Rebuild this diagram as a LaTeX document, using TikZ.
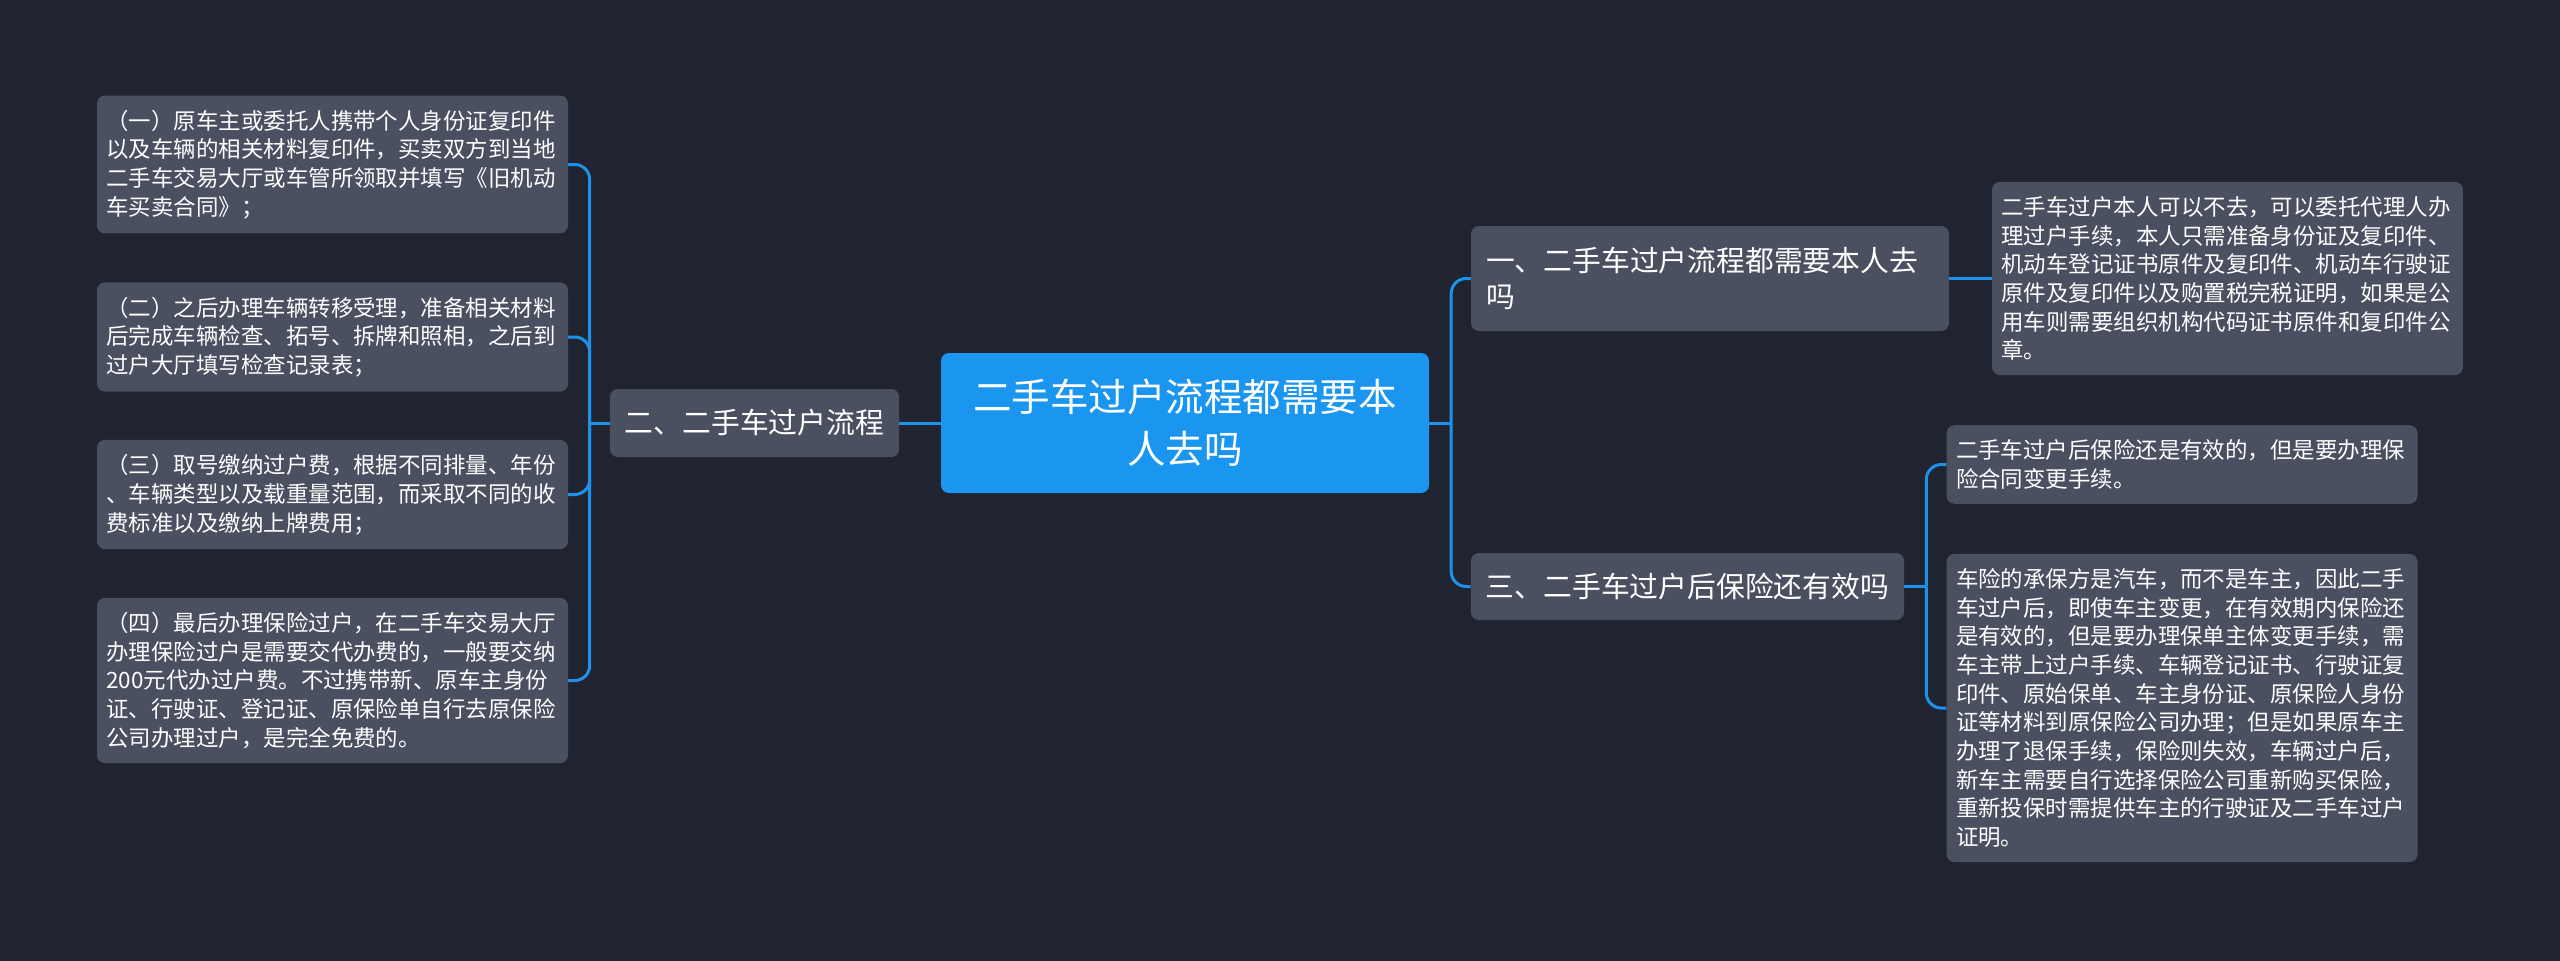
\documentclass[tikz,border=0pt]{standalone}
\usepackage{fontspec}
\newfontfamily\cjkfont{Noto Sans CJK SC}
\definecolor{mapbg}{RGB}{32,36,48}
\definecolor{cardgray}{RGB}{74,80,96}
\definecolor{rootblue}{RGB}{26,150,240}
\definecolor{linkblue}{RGB}{30,145,235}

\begin{document}
\begin{tikzpicture}[x=1pt,y=-1pt,
    leafcard/.style={fill=cardgray,rounded corners=8pt,text=white,align=left,
      text width=452pt,inner xsep=9.5pt,inner ysep=14.5pt,
      font=\cjkfont\fontsize{22.45}{28.7}\selectfont},
    topiccard/.style={fill=cardgray,rounded corners=8pt,text=white,align=left,
      inner xsep=15pt,font=\cjkfont\fontsize{28.8}{36}\selectfont},
    rootcard/.style={fill=rootblue,rounded corners=8pt,text=white,align=center,
      font=\cjkfont\fontsize{38.5}{52}\selectfont},
    link/.style={draw=linkblue,line width=3pt}]
  \fill[mapbg] (0,0) rectangle (2560,961);
  \useasboundingbox (0,0) rectangle (2560,961);

  % centre
  \node[rootcard,minimum width=488pt,minimum height=140pt] (root) at (1185,423)
    {二手车过户流程都需要本\\人去吗};

  % left side
  \node[topiccard,minimum height=68pt] (flow) at (754.5,423) {二、二手车过户流程};
  \node[leafcard] (step1) at (332.5,164.5)
    {（一）原车主或委托人携带个人身份证复印件\\以及车辆的相关材料复印件，买卖双方到当地\\二手车交易大厅或车管所领取并填写《旧机动\\车买卖合同》；};
  \node[leafcard] (step2) at (332.5,337)
    {（二）之后办理车辆转移受理，准备相关材料\\后完成车辆检查、拓号、拆牌和照相，之后到\\过户大厅填写检查记录表；};
  \node[leafcard] (step3) at (332.5,494.5)
    {（三）取号缴纳过户费，根据不同排量、年份\\、车辆类型以及载重量范围，而采取不同的收\\费标准以及缴纳上牌费用；};
  \node[leafcard] (step4) at (332.5,680.5)
    {（四）最后办理保险过户，在二手车交易大厅\\办理保险过户是需要交代办费的，一般要交纳\\200元代办过户费。不过携带新、原车主身份\\证、行驶证、登记证、原保险单自行去原保险\\公司办理过户，是完全免费的。};

  % right side
  \node[topiccard,text width=448pt,minimum height=105pt] (self) at (1710,278.5)
    {一、二手车过户流程都需要本人去\\吗};
  \node[topiccard,minimum height=67pt] (insure) at (1687.5,586.5)
    {三、二手车过户后保险还有效吗};
  \node[leafcard] (proxy) at (2227.5,278.5)
    {二手车过户本人可以不去，可以委托代理人办\\理过户手续，本人只需准备身份证及复印件、\\机动车登记证书原件及复印件、机动车行驶证\\原件及复印件以及购置税完税证明，如果是公\\用车则需要组织机构代码证书原件和复印件公\\章。};
  \node[leafcard] (valid) at (2182,464.5)
    {二手车过户后保险还是有效的，但是要办理保\\险合同变更手续。};
  \node[leafcard] (change) at (2182,708)
    {车险的承保方是汽车，而不是车主，因此二手\\车过户后，即使车主变更，在有效期内保险还\\是有效的，但是要办理保单主体变更手续，需\\车主带上过户手续、车辆登记证书、行驶证复\\印件、原始保单、车主身份证、原保险人身份\\证等材料到原保险公司办理；但是如果原车主\\办理了退保手续，保险则失效，车辆过户后，\\新车主需要自行选择保险公司重新购买保险，\\重新投保时需提供车主的行驶证及二手车过户\\证明。};

  % connectors
  \draw[link] (root.west) -- (flow.east);
  \draw[link] (flow.west) -- ++(-20,0) coordinate (ljoin);
  \foreach \leaf in {step1,step2,step3,step4}
    \draw[link,rounded corners=15pt] (ljoin) |- (\leaf.east);
  \draw[link] (root.east) -- ++(22,0) coordinate (rjoin);
  \foreach \topic in {self,insure}
    \draw[link,rounded corners=15pt] (rjoin) |- (\topic.west);
  \draw[link] (self.east) -- (proxy.west);
  \draw[link] (insure.east) -- ++(22,0) coordinate (ijoin);
  \foreach \leaf in {valid,change}
    \draw[link,rounded corners=15pt] (ijoin) |- (\leaf.west);
\end{tikzpicture}
\end{document}
